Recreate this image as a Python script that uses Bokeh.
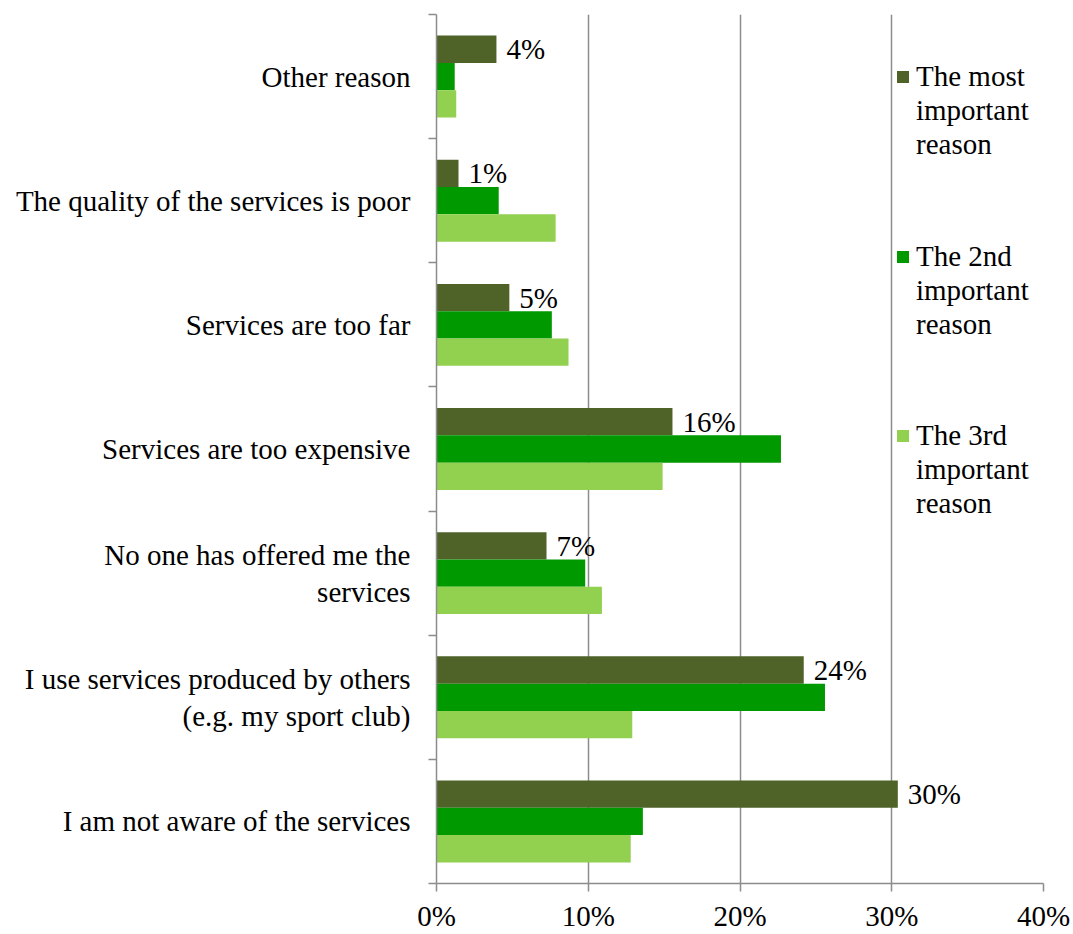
from bokeh.plotting import figure
from bokeh.models import (ColumnDataSource, Range1d, FixedTicker, PrintfTickFormatter,
                          Legend, LegendItem)
from bokeh.core.properties import value
from bokeh.embed import file_html
from bokeh.resources import INLINE

# ---- data (top to bottom as displayed) ----
categories = [
    "Other reason",
    "The quality of the services is poor",
    "Services are too far",
    "Services are too expensive",
    "No one has offered me the\nservices",
    "I use services produced by others\n(e.g. my sport club)",
    "I am not aware of the services",
]
most_important = [3.95, 1.45, 4.8, 15.55, 7.25, 24.2, 30.4]
second_important = [1.2, 4.1, 7.6, 22.7, 9.8, 25.6, 13.6]
third_important = [1.3, 7.85, 8.7, 14.9, 10.9, 12.9, 12.8]
series_names = [["The most", "important", "reason"],
                ["The 2nd", "important", "reason"],
                ["The 3rd", "important", "reason"]]
x_ticks = [0, 10, 20, 30, 40]

# ---- styling ----
colors = ["#4F6228", "#009900", "#92D050"]
FONT = "Liberation Serif"
FS = "29px"
GRAY = "#8C8C8C"
BAR_H = 0.22

n = len(categories)
centers = [n - 1 - i + 0.5 for i in range(n)]

p = figure(width=1073, height=934, output_backend="svg", toolbar_location=None,
           x_range=Range1d(0, 40), y_range=Range1d(0, n),
           min_border_left=436, min_border_right=30, min_border_top=14, min_border_bottom=49)
p.outline_line_color = None
p.background_fill_color = "white"

series = [most_important, second_important, third_important]
offsets = [BAR_H, 0.0, -BAR_H]
renderers = []
for vals, off, col in zip(series, offsets, colors):
    src = ColumnDataSource(dict(y=[c + off for c in centers], right=vals))
    r = p.hbar(y="y", left=0, right="right", height=BAR_H, source=src,
               fill_color=col, line_color=None)
    renderers.append(r)

# data labels on "most important" series
lab_src = ColumnDataSource(dict(x=most_important,
                                y=[c + BAR_H for c in centers],
                                t=[f"{round(v):.0f}%" for v in most_important]))
p.text(x="x", y="y", text="t", source=lab_src, x_offset=10,
       text_baseline="middle", text_align="left",
       text_font=value(FONT), text_font_size=FS, text_color="black")

# x axis
p.xaxis.ticker = FixedTicker(ticks=x_ticks)
p.xaxis.formatter = PrintfTickFormatter(format="%d%%")
p.xaxis.axis_line_color = GRAY
p.xaxis.axis_line_width = 1.5
p.xaxis.major_tick_line_color = GRAY
p.xaxis.major_tick_line_width = 1.5
p.xaxis.major_tick_in = 0
p.xaxis.major_tick_out = 8
p.xaxis.minor_tick_line_color = None
p.xaxis.major_label_text_font = FONT
p.xaxis.major_label_text_font_size = FS
p.xaxis.major_label_text_color = "black"
p.xaxis.major_label_standoff = 8

# y axis: labels at category centres, tick marks at category boundaries
p.yaxis.ticker = FixedTicker(ticks=centers, minor_ticks=list(range(n + 1)))
p.yaxis.major_label_overrides = {c: cat for c, cat in zip(centers, categories)}
p.yaxis.axis_line_color = GRAY
p.yaxis.axis_line_width = 1.5
p.yaxis.major_tick_line_color = None
p.yaxis.major_tick_in = 0
p.yaxis.major_tick_out = 0
p.yaxis.minor_tick_line_color = GRAY
p.yaxis.minor_tick_line_width = 1.5
p.yaxis.minor_tick_in = 0
p.yaxis.minor_tick_out = 8
p.yaxis.major_label_text_font = FONT
p.yaxis.major_label_text_font_size = FS
p.yaxis.major_label_text_color = "black"
p.yaxis.major_label_text_line_height = 1.15
p.yaxis.major_label_standoff = 18

# grid
p.ygrid.grid_line_color = None
p.xgrid.ticker = FixedTicker(ticks=x_ticks[1:])
p.xgrid.grid_line_color = GRAY
p.xgrid.grid_line_width = 1.5

# legends: one per series, glyph beside the first line
legend_locs = [(459, 722), (459, 542), (459, 363)]
for lines, r, loc in zip(series_names, renderers, legend_locs):
    items = [LegendItem(label=lines[0], renderers=[r])]
    items += [LegendItem(label=t, renderers=[]) for t in lines[1:]]
    lg = Legend(items=items, location=loc, orientation="vertical",
                label_text_font=FONT, label_text_font_size=FS, label_text_color="black",
                label_height=34, glyph_width=15, glyph_height=15, label_standoff=6,
                spacing=0, padding=0, margin=0,
                border_line_color=None, background_fill_alpha=0)
    p.add_layout(lg)

open("out.html", "w").write(file_html(p, INLINE))
